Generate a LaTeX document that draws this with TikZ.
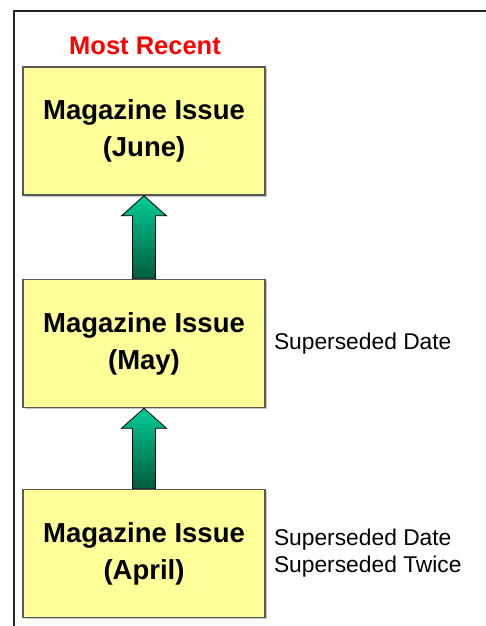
\documentclass[tikz,border=0pt]{standalone}
\usepackage{fontspec}
\setmainfont{Liberation Sans}
\usetikzlibrary{positioning,calc,shadows}
\definecolor{issueyellow}{RGB}{255,255,153}
\definecolor{arrowtop}{RGB}{0,204,150}
\definecolor{arrowbottom}{RGB}{0,92,62}

\begin{document}
\begin{tikzpicture}[x=1pt,y=-1pt,
    issue/.style={draw=black!65,line width=1.6pt,fill=issueyellow,
      drop shadow={shadow xshift=1.5pt,shadow yshift=-1.5pt,opacity=.45},
      minimum width=242pt,minimum height=128pt,inner sep=0pt,align=center,
      font=\fontsize{27.5}{37}\selectfont\bfseries},
    note/.style={align=left,inner sep=0pt,font=\fontsize{22.8}{27}\selectfont},
    uparrow/.style={draw=black,line width=0.8pt,top color=arrowtop,bottom color=arrowbottom}]
\useasboundingbox (0,0) rectangle (486,626);
\draw[line width=2pt,black!85] (14,626) -- (14,11) -- (486,11);
%
  \node [red,font=\fontsize{25.5}{28}\selectfont\bfseries] at (145,46) (recent) {Most Recent};
  \node [issue] at (144,131) (june) {Magazine Issue\\(June)};
  \node [issue] at (144,343.5) (may) {Magazine Issue\\(May)};
  \node [issue] at (144,553.5) (april) {Magazine Issue\\(April)};
%
  \node [note,right=8pt of may] (may note) {Superseded Date};
  \node [note,right=8pt of april] (april note) {Superseded Date\\Superseded Twice};
%
%
\path[uparrow] ($(may.north)+(-11.5,0)$) -- ($(june.south)+(-11.5,20)$) -- ($(june.south)+(-22.5,20)$)
   -- (june.south) -- ($(june.south)+(22.5,20)$) -- ($(june.south)+(11.5,20)$) -- ($(may.north)+(11.5,0)$) -- cycle;
\path[uparrow] ($(april.north)+(-11.5,0)$) -- ($(may.south)+(-11.5,20)$) -- ($(may.south)+(-22.5,20)$)
   -- (may.south) -- ($(may.south)+(22.5,20)$) -- ($(may.south)+(11.5,20)$) -- ($(april.north)+(11.5,0)$) -- cycle;

\end{tikzpicture}
\end{document}
